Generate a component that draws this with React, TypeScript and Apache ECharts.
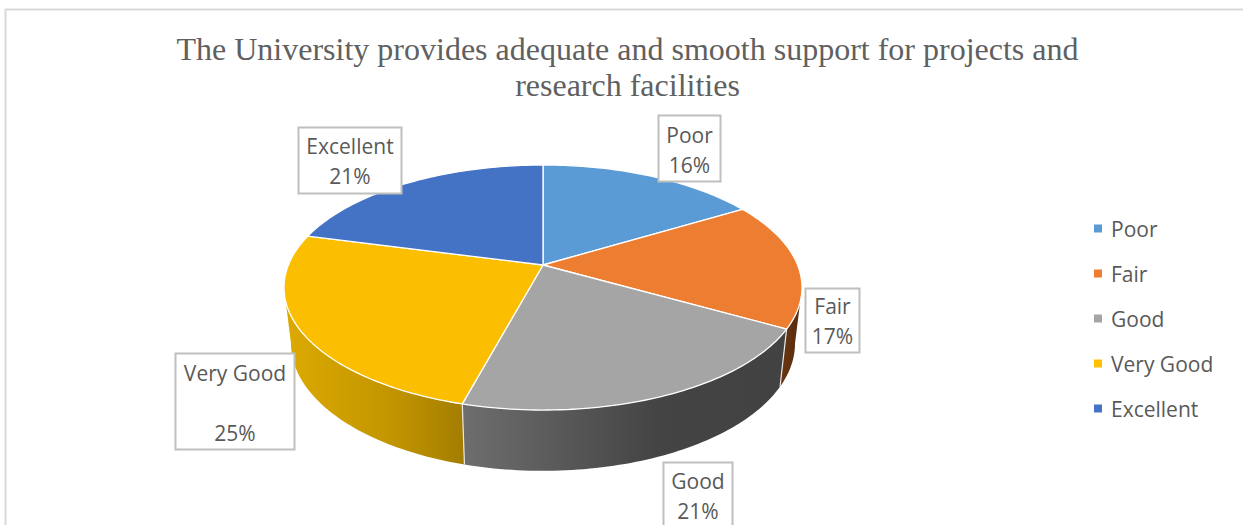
import React, { useEffect, useRef } from "react";
import * as echarts from "echarts";

const titleText = "The University provides adequate and smooth support for projects and\nresearch facilities";
const categories = ["Poor", "Fair", "Good", "Very Good", "Excellent"];
const values = [16.4, 16.8, 21.0, 24.9, 20.9];
const topColors = ["#5B9BD5", "#ED7D31", "#A5A5A5", "#FFC000", "#4472C4"];
const shownTopColors = ["#5B9BD5", "#ED7D31", "#A5A5A5", "#FBBE00", "#4472C4"];
const sideStops: [string, string, string][] = [
  ["#2f5f8c", "#2f5f8c", "#2f5f8c"],
  ["#6b3610", "#5e2f0f", "#5e2f0f"],
  ["#6e6e6e", "#444444", "#424242"],
  ["#dcaa00", "#c29500", "#a37d00"],
  ["#2b4a80", "#2b4a80", "#2b4a80"],
];
// label boxes: [left, top, width, height], text inset, and the blank-line form of each label
const labelBoxes = [
  [658.5, 115.5, 62, 66],
  [805.5, 288.5, 54, 64],
  [663.5, 462.5, 69, 70],
  [175.5, 353.5, 119, 96],
  [298.5, 127.5, 103, 66],
];
const labelInsets = [4, 2, 3, 4, 3];
const labelGaps = ["\n", "\n", "\n", "\n\n", "\n"];

// projected rim of the pie
const CX = 543;
const CY = 265;
const KP = 0.1837;
const AX = 254.6;
const BY = 118.4;
const SILHOUETTE = Math.acos(-KP);

function project(t: number): [number, number] {
  const d = 1 + KP * Math.cos(t);
  return [CX + (AX * Math.sin(t)) / d, CY - (BY * Math.cos(t)) / d];
}
function lower(p: [number, number]): [number, number] {
  return [CX + (p[0] - CX) * 0.973, p[1] + 55 + 0.04 * (p[1] - CY)];
}
function arc(a: number, b: number, f = (p: [number, number]) => p) {
  const pts: [number, number][] = [];
  const n = Math.max(2, Math.ceil(Math.abs(b - a) * 50));
  for (let i = 0; i <= n; i++) pts.push(f(project(a + ((b - a) * i) / n)));
  return pts;
}

const total = values.reduce((s, v) => s + v, 0);

function renderSlice(params: any, api: any) {
  const idx = params.seriesIndex as number;
  const before = values.slice(0, idx).reduce((s, v) => s + v, 0);
  const a = (before / total) * Math.PI * 2;
  const b = ((before + api.value(0)) / total) * Math.PI * 2;
  const children: any[] = [];
  const sa = Math.max(a, SILHOUETTE);
  const sb = Math.min(b, Math.PI * 2 - SILHOUETTE);
  if (sb > sa) {
    const upper = arc(sa, sb);
    const bottom = arc(sb, sa, lower);
    const s = sideStops[idx];
    children.push({
      type: "polygon",
      shape: { points: [...upper, ...bottom] },
      style: {
        fill: {
          type: "linear", x: 0, y: 0, x2: 1, y2: 0,
          colorStops: [
            { offset: 0, color: s[0] },
            { offset: 0.6, color: s[1] },
            { offset: 1, color: s[2] },
          ],
        },
        stroke: null,
      },
    });
    if (a >= SILHOUETTE && a <= Math.PI * 2 - SILHOUETTE) {
      const p = project(a);
      const q = lower(p);
      children.push({
        type: "line",
        shape: { x1: p[0], y1: p[1], x2: q[0], y2: q[1] },
        style: { stroke: "#e8e8e8", lineWidth: 1.2 },
      });
    }
  }
  children.push({
    type: "polygon",
    shape: { points: [[CX, CY], ...arc(a, b)] },
    style: { fill: shownTopColors[idx], stroke: "#ffffff", lineWidth: 1.3, lineJoin: "round" },
  });
  return { type: "group", children };
}

const FONT = "'Open Sans', 'Noto Sans', sans-serif";

function labelGraphics() {
  const out: any[] = [];
  categories.forEach((c, i) => {
    const [x, y, w, h] = labelBoxes[i];
    out.push({
      type: "rect",
      z: 20,
      shape: { x, y, width: w, height: h },
      style: { fill: "#ffffff", stroke: "#BFBFBF", lineWidth: 2 },
    });
    const lines = `${c}${labelGaps[i]}${Math.round(values[i])}%`;
    out.push({
      type: "text",
      z: 21,
      style: {
        x: x + w / 2,
        y: y + labelInsets[i],
        text: lines,
        fill: "#595959",
        font: `21px ${FONT}`,
        lineHeight: 30,
        align: "center",
        verticalAlign: "top",
      },
    });
  });
  return out;
}

export default function App() {
  const ref = useRef<HTMLDivElement>(null);
  useEffect(() => {
    const chart = echarts.init(ref.current!, undefined, { renderer: "svg" });
    chart.setOption({
      animation: false,
      backgroundColor: "#ffffff",
      color: topColors,
      title: {
        text: titleText,
        left: 622.5,
        top: 26,
        textAlign: "center",
        textStyle: {
          fontFamily: "'Liberation Serif', serif",
          fontWeight: "normal",
          fontSize: 32,
          lineHeight: 36,
          color: "#606060",
        },
      },
      legend: {
        orient: "vertical",
        left: 1089,
        top: 213,
        icon: "rect",
        itemWidth: 8,
        itemHeight: 8,
        itemGap: 24,
        data: categories,
        textStyle: { fontFamily: FONT, fontSize: 21, color: "#595959", padding: [0, 0, 0, 4] },
      },
      series: categories.map((name, i) => ({
        type: "custom",
        name,
        coordinateSystem: "none",
        silent: true,
        clip: false,
        z: 2 + i,
        itemStyle: { color: topColors[i] },
        data: [[values[i]]],
        renderItem: renderSlice,
      })),
      graphic: {
        elements: [
          {
            type: "rect",
            z: 1,
            shape: { x: 5.5, y: 9.5, width: 1400, height: 700 },
            style: { fill: "none", stroke: "#D9D9D9", lineWidth: 2 },
          },
          ...labelGraphics(),
        ],
      },
    });
    return () => chart.dispose();
  }, []);
  return (
    <div
      ref={ref}
      style={{ position: "absolute", left: 0, top: 0, width: 1243, height: 525, overflow: "hidden" }}
    />
  );
}
